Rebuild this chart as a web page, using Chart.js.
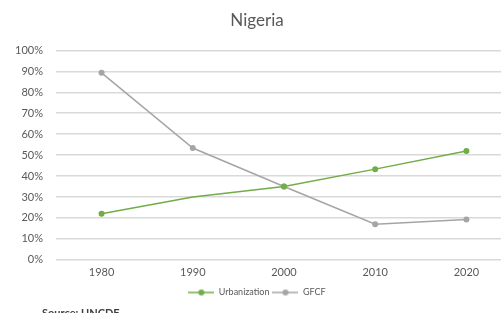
<!DOCTYPE html>
<html>
<head>
<meta charset="utf-8">
<script src="https://cdn.jsdelivr.net/npm/chart.js@4/dist/chart.umd.min.js"></script>
<style>
  html, body { margin: 0; padding: 0; overflow: hidden; background: #fff; }
  #wrap { position: relative; width: 532px; height: 307px; }
  #source { position: absolute; left: 42px; top: 306px; font: bold 11px Lato, sans-serif; color: #404040; }
</style>
</head>
<body>
<div id="wrap"><canvas id="myChart"></canvas></div>
<div id="source">Source: UNCDF</div>
<script>
var years = ["1980", "1990", "2000", "2010", "2020"];
var urbanization = [22, 30, 35, 43.3, 52];
var gfcf = [89.3, 53.4, 35, 17, 19.2];

function legendIcon(color) {
  var c = document.createElement("canvas");
  c.width = 26;
  c.height = 8;
  var g = c.getContext("2d");
  g.strokeStyle = color;
  g.lineWidth = 1.5;
  g.beginPath();
  g.moveTo(0, 4);
  g.lineTo(26, 4);
  g.stroke();
  g.fillStyle = color;
  g.beginPath();
  g.arc(13, 4, 3, 0, Math.PI * 2);
  g.fill();
  return c;
}

window.onload = function () {
  var ctx = document.getElementById("myChart").getContext("2d");
  var myChart = new Chart(ctx, {
    type: "line",
    data: {
      labels: years,
      datasets: [
        {
          label: "Urbanization",
          data: urbanization,
          borderColor: "#70AD47",
          backgroundColor: "#70AD47",
          borderWidth: 1.5,
          pointRadius: [3, 0, 3, 3, 3],
          pointBorderWidth: 0,
        },
        {
          label: "GFCF",
          data: gfcf,
          borderColor: "#A5A5A5",
          backgroundColor: "#A5A5A5",
          borderWidth: 1.5,
          pointRadius: 3,
          pointBorderWidth: 0,
        },
      ],
    },
    options: {
      responsive: true,
      maintainAspectRatio: false,
      animation: false,
      layout: { padding: { left: 2, right: 20, top: 4, bottom: 0 } },
      plugins: {
        title: {
          display: true,
          text: "Nigeria",
          color: "#595959",
          font: { family: "Lato", size: 17, weight: "normal" },
          padding: { top: 6, bottom: 20 },
        },
        legend: {
          position: "bottom",
          labels: {
            usePointStyle: true,
            pointStyleWidth: 26,
            color: "#595959",
            font: { family: "Lato", size: 9 },
            boxHeight: 8,
            padding: 3,
            generateLabels: function (chart) {
              return chart.data.datasets.map(function (ds, i) {
                return {
                  text: ds.label,
                  pointStyle: legendIcon(ds.borderColor),
                  fontColor: "#595959",
                  datasetIndex: i,
                  lineWidth: 0,
                };
              });
            },
          },
        },
        tooltip: { enabled: false },
      },
      scales: {
        x: {
          offset: true,
          grid: { display: false, drawTicks: false },
          border: { display: false },
          ticks: { color: "#595959", font: { family: "Lato", size: 11 }, padding: 6 },
        },
        y: {
          min: 0,
          max: 100,
          grid: { color: "#D9D9D9", lineWidth: 1.5, drawTicks: false },
          border: { display: false },
          ticks: {
            stepSize: 10,
            color: "#595959",
            font: { family: "Lato", size: 11 },
            padding: 13,
            callback: function (v) {
              return v + "%";
            },
          },
        },
      },
    },
  });
};
</script>
</body>
</html>
